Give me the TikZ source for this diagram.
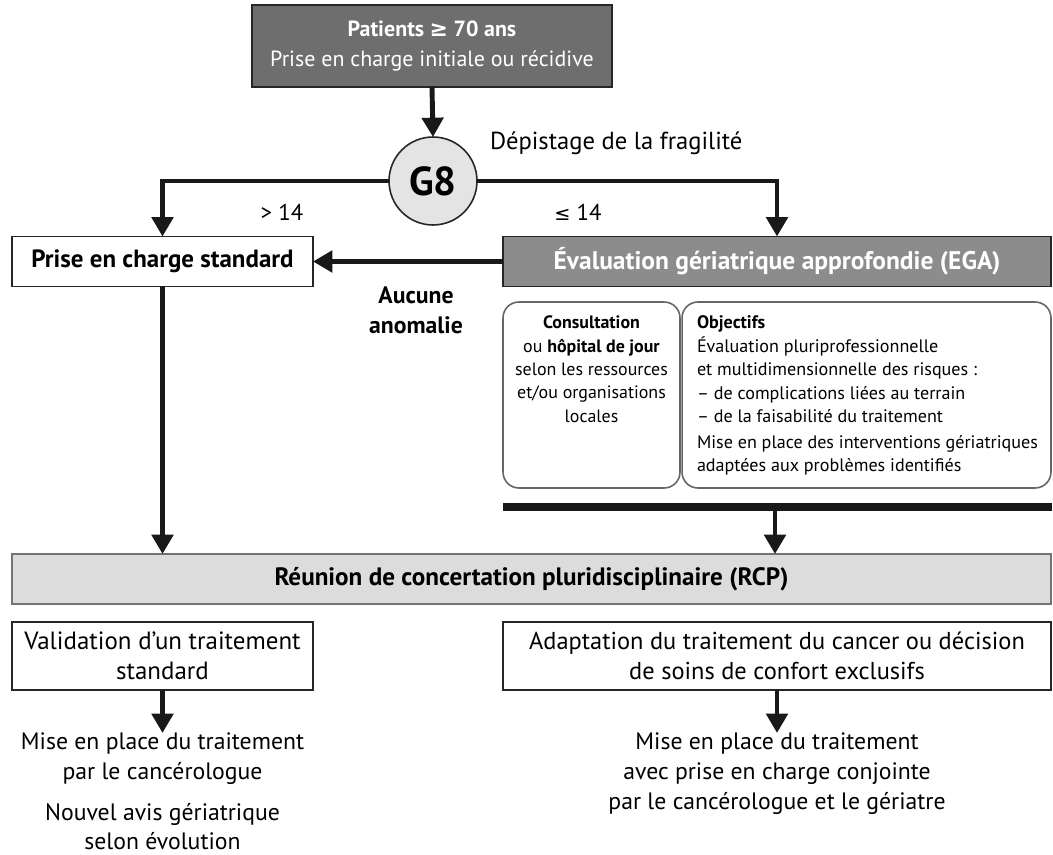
\documentclass[tikz,border=0pt]{standalone}
\usepackage{fontspec}
\setmainfont{PT Sans}
\newfontfamily\symf{DejaVu Sans}
\usetikzlibrary{arrows.meta}
\definecolor{darkgr}{HTML}{6E6E6E}
\definecolor{midgr}{HTML}{8C8C8C}
\definecolor{lightgr}{HTML}{DCDCDC}
\definecolor{circgr}{HTML}{E4E4E4}
\begin{document}
\begin{tikzpicture}[x=0.02cm,y=-0.02cm,
  every node/.style={inner sep=0pt, outer sep=0pt},
  box/.style={draw=black!85, line width=0.9pt, align=center},
  rbox/.style={draw=black!60, line width=0.9pt, rounded corners=9pt},
  conn/.style={line width=2.8pt, draw=black!90, -{Triangle[width=12pt,length=11pt]}},
  main/.style={font=\fontsize{13.5}{17}\selectfont, align=center},
  small/.style={font=\fontsize{10.3}{13.3}\selectfont}
]
\useasboundingbox (0,0) rectangle (1053,854);

% top box
\node[box, fill=darkgr, text=white, minimum width=7.2cm, minimum height=1.64cm] (top) at (432,46)
  {\fontsize{12.5}{14}\selectfont\textbf{Patients {\symf ≥} 70 ans}\\[5pt]\fontsize{12.5}{15}\selectfont Prise en charge initiale ou récidive};

% G8
\node[circle, draw=black!85, line width=0.9pt, fill=circgr, minimum size=1.76cm, font=\bfseries\fontsize{23}{26}\selectfont] (g8) at (433,181) {G8};
\node[main, anchor=west, font=\fontsize{14}{17}\selectfont] (dep) at (490,143) {Dépistage de la fragilité};

% second row
\node[box, minimum width=6.02cm, minimum height=1.0cm, font=\bfseries\fontsize{14.2}{16}\selectfont] (std) at (162.5,261.5) {Prise en charge standard};
\node[box, fill=midgr, text=white, minimum width=10.96cm, minimum height=1.0cm, font=\bfseries\fontsize{14.5}{16}\selectfont] (ega) at (777,261.5) {Évaluation gériatrique approfondie (EGA)};

\node[main, font=\fontsize{13}{17}\selectfont] (gt) at (282,212) {> 14};
\node[main, font=\fontsize{13}{17}\selectfont] (le) at (578,212) {{\symf\fontsize{11}{13}\selectfont ≤} 14};

\draw[conn] (top.south) -- (g8.north);
\draw[conn] (g8.west) -| (std.north);
\draw[conn] (g8.east) -| (ega.north);
\draw[conn] (ega.west) -- (std.east);

\node[font=\bfseries\fontsize{13.5}{17}\selectfont, align=center] (auc) at (416,310) {Aucune\\anomalie};

% rounded boxes
\node[rbox, minimum width=3.54cm, minimum height=3.72cm] (cons) at (591.5,395) {};
\node[rbox, minimum width=7.38cm, minimum height=3.72cm] (obj) at (866.5,395) {};
\node[small, align=center, anchor=north, font=\fontsize{10.2}{13.3}\selectfont] (constxt) at (591.5,316)
  {\textbf{Consultation}\\ou \textbf{hôpital de jour}\\selon les ressources\\et/ou organisations\\locales};
\node[small, align=left, anchor=north west] (objtxt) at (697,316)
  {\textbf{Objectifs}\\Évaluation pluriprofessionnelle\\et multidimensionnelle des risques :\\– de complications liées au terrain\\– de la faisabilité du traitement\\[1.5pt]Mise en place des interventions gériatriques\\adaptées aux problèmes identifiés};

% bar
\coordinate (barL) at (503,507);
\coordinate (barR) at (1052,507);
\coordinate (barM) at (775,507);
\draw[line width=4.5pt, draw=black!90] (barL) -- (barR);

% RCP
\node[box, draw=black!55, fill=lightgr, minimum width=20.78cm, minimum height=1.0cm, font=\bfseries\fontsize{14.3}{16}\selectfont] (rcp) at (531.5,579) {Réunion de concertation pluridisciplinaire (RCP)};
\draw[conn] (std.south) -- (std.south |- rcp.north);
\draw[conn] (barM) -- (barM |- rcp.north);

% decision boxes
\node[box, main, minimum width=6.02cm, minimum height=1.36cm, font=\fontsize{14.2}{17}\selectfont] (val) at (162.5,656) {Validation d’un traitement\\standard};
\node[box, main, minimum width=10.96cm, minimum height=1.36cm, font=\fontsize{13.9}{17}\selectfont] (adap) at (777,656) {Adaptation du traitement du cancer ou décision\\de soins de confort exclusifs};

% outcomes
\node[main, anchor=north] (mise1) at (162.5,733) {Mise en place du traitement\\par le cancérologue};
\node[main, anchor=north] (avis) at (162.5,803) {Nouvel avis gériatrique\\selon évolution};
\node[main, anchor=north] (mise2) at (777,733) {Mise en place du traitement\\avec prise en charge conjointe\\par le cancérologue et le gériatre};
\draw[conn] (val.south) -- (mise1.north);
\draw[conn] (adap.south) -- (mise2.north);
\end{tikzpicture}
\end{document}
